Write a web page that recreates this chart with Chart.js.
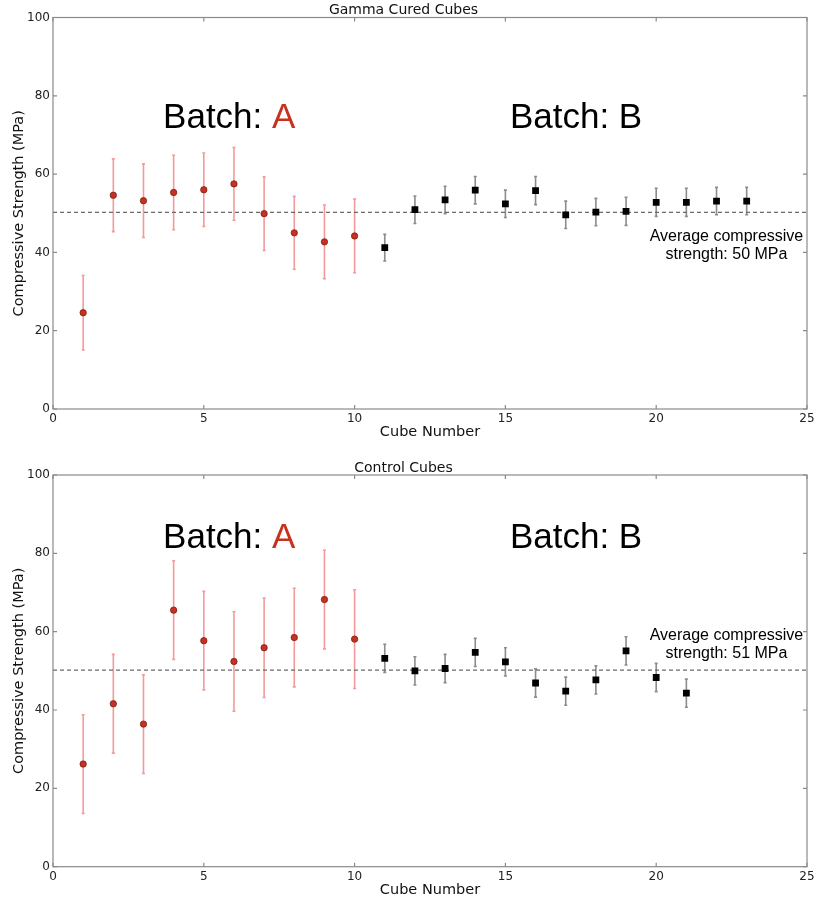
<!DOCTYPE html>
<html>
<head>
<meta charset="UTF-8">
<title>Gamma Cured and Control Cubes</title>
<script src="https://cdn.jsdelivr.net/npm/chart.js"></script>
<style>
  html, body { margin: 0; padding: 0; background: #fff; }
  .panel { position: absolute; left: 0; width: 814px; height: 450px; }
  #top { top: 0; }
  #bottom { top: 450px; }
</style>
</head>
<body>
<div class="panel" id="top"><canvas id="gammaChart" width="814" height="450"></canvas></div>
<div class="panel" id="bottom"><canvas id="controlChart" width="814" height="450"></canvas></div>
<script>
// cube numbers per batch
const gammaCubesA = [1, 2, 3, 4, 5, 6, 7, 8, 9, 10];
const gammaCubesB = [11, 12, 13, 14, 15, 16, 17, 18, 19, 20, 21, 22, 23];
const controlCubesA = [1, 2, 3, 4, 5, 6, 7, 8, 9, 10];
const controlCubesB = [11, 12, 13, 14, 15, 16, 17, 18, 19, 20, 21];

// compressive strength (MPa) and error (+/-)
const gammaA = [24.6, 54.6, 53.2, 55.3, 56.0, 57.5, 49.9, 45.0, 42.7, 44.2];
const gammaAErr = [9.5, 9.3, 9.4, 9.5, 9.4, 9.3, 9.4, 9.3, 9.4, 9.4];
const gammaB = [41.2, 50.9, 53.4, 55.9, 52.4, 55.8, 49.6, 50.3, 50.5, 52.8, 52.8, 53.1, 53.1];
const gammaBErr = [3.4, 3.5, 3.5, 3.5, 3.5, 3.6, 3.5, 3.5, 3.6, 3.6, 3.6, 3.5, 3.5];

const controlA = [26.2, 41.6, 36.4, 65.5, 57.7, 52.4, 55.9, 58.5, 68.2, 58.1];
const controlAErr = [12.6, 12.6, 12.6, 12.6, 12.6, 12.7, 12.7, 12.6, 12.6, 12.6];
const controlB = [53.2, 50.0, 50.6, 54.7, 52.3, 46.9, 44.8, 47.7, 55.1, 48.3, 44.3];
const controlBErr = [3.6, 3.6, 3.6, 3.6, 3.6, 3.6, 3.6, 3.6, 3.6, 3.6, 3.6];

const gammaAvg = 50.2;
const controlAvg = 50.2;

const xTicks = [0, 5, 10, 15, 20, 25];
const yTicks = [0, 20, 40, 60, 80, 100];

const RED = '#c8301f';
const TICK_FONT = { family: "'DejaVu Sans', sans-serif", size: 12 };
const LABEL_FONT = { family: "'DejaVu Sans', sans-serif", size: 14.5, lineHeight: 1.2 };

const toPoints = (xs, ys) => xs.map((x, i) => ({ x: x, y: ys[i] }));

// vertical error bars with small caps, drawn under the markers
const errorBars = {
  id: 'errorBars',
  beforeDatasetsDraw(chart) {
    const { ctx, scales: { x, y } } = chart;
    chart.data.datasets.forEach((ds) => {
      if (!ds.errors) return;
      ctx.save();
      ctx.strokeStyle = ds.errorColor;
      ctx.lineWidth = 1.6;
      ds.data.forEach((p, i) => {
        const px = x.getPixelForValue(p.x);
        const hi = y.getPixelForValue(p.y + ds.errors[i]);
        const lo = y.getPixelForValue(p.y - ds.errors[i]);
        ctx.beginPath();
        ctx.moveTo(px, hi); ctx.lineTo(px, lo);
        ctx.moveTo(px - 1.5, hi); ctx.lineTo(px + 1.5, hi);
        ctx.moveTo(px - 1.5, lo); ctx.lineTo(px + 1.5, lo);
        ctx.stroke();
      });
      ctx.restore();
    });
  }
};

// box frame with inward ticks on all four sides (matplotlib look)
const frame = {
  id: 'frame',
  afterDraw(chart) {
    const { ctx, chartArea: a, scales: { x, y } } = chart;
    ctx.save();
    ctx.strokeStyle = '#8a8a8a';
    ctx.lineWidth = 1.2;
    ctx.strokeRect(a.left, a.top, a.right - a.left, a.bottom - a.top);
    ctx.beginPath();
    xTicks.forEach((v) => {
      const px = x.getPixelForValue(v);
      ctx.moveTo(px, a.bottom); ctx.lineTo(px, a.bottom - 4);
      ctx.moveTo(px, a.top); ctx.lineTo(px, a.top + 4);
    });
    yTicks.forEach((v) => {
      const py = y.getPixelForValue(v);
      ctx.moveTo(a.left, py); ctx.lineTo(a.left + 4, py);
      ctx.moveTo(a.right, py); ctx.lineTo(a.right - 4, py);
    });
    ctx.stroke();
    ctx.restore();
  }
};

function notesPlugin(notes) {
  return {
    id: 'notes',
    afterDatasetsDraw(chart) {
      const { ctx, scales: { x, y } } = chart;
      ctx.save();
      notes.forEach((n) => {
        ctx.font = n.font;
        ctx.textAlign = n.align;
        ctx.textBaseline = 'alphabetic';
        let px = x.getPixelForValue(n.x);
        const py = y.getPixelForValue(n.y);
        n.parts.forEach((part) => {
          ctx.fillStyle = part.color;
          ctx.fillText(part.text, px, py);
          if (n.align === 'left') px += ctx.measureText(part.text).width;
        });
      });
      ctx.restore();
    }
  };
}

function makeChart(id, cfg) {
  const ctx = document.getElementById(id).getContext('2d');
  return new Chart(ctx, {
    type: 'scatter',
    data: {
      datasets: [
        {
          label: 'Batch A',
          data: toPoints(cfg.cubesA, cfg.valsA),
          errors: cfg.errA,
          errorColor: 'rgba(240, 120, 120, 0.75)',
          pointStyle: 'circle',
          pointRadius: 3.2,
          pointBackgroundColor: RED,
          pointBorderColor: '#6e1a10',
          pointBorderWidth: 0.7
        },
        {
          label: 'Batch B',
          data: toPoints(cfg.cubesB, cfg.valsB),
          errors: cfg.errB,
          errorColor: '#8c8c8c',
          pointStyle: 'rect',
          pointRadius: 4.8,
          pointBackgroundColor: '#000',
          pointBorderColor: '#000',
          pointBorderWidth: 0
        },
        {
          type: 'line',
          label: 'Average',
          data: [{ x: 0, y: cfg.avg }, { x: 25, y: cfg.avg }],
          borderColor: '#6a6a6a',
          borderWidth: 1.2,
          borderDash: [4, 3],
          pointRadius: 0,
          fill: false
        }
      ]
    },
    options: {
      responsive: false,
      animation: false,
      layout: { padding: { left: 0, right: 7, top: 0, bottom: 0 } },
      plugins: {
        legend: { display: false },
        tooltip: { enabled: false },
        title: {
          display: true,
          text: cfg.title,
          color: '#111',
          font: { family: "'DejaVu Sans', sans-serif", size: 14, weight: 'normal', lineHeight: 1 },
          padding: cfg.titlePad
        }
      },
      scales: {
        x: {
          type: 'linear',
          min: 0,
          max: 25,
          afterBuildTicks: (s) => { s.ticks = xTicks.map((v) => ({ value: v })); },
          afterFit: (s) => { s.height = cfg.xHeight; s.paddingRight = 0; s.paddingLeft = 0; },
          grid: { display: false, drawTicks: false },
          border: { display: false },
          ticks: { color: '#222', font: TICK_FONT, padding: 3, maxRotation: 0 },
          title: {
            display: true,
            text: 'Cube Number',
            color: '#111',
            font: LABEL_FONT,
            padding: { top: 0, bottom: cfg.xTitlePad }
          }
        },
        y: {
          type: 'linear',
          min: 0,
          max: 100,
          afterBuildTicks: (s) => { s.ticks = yTicks.map((v) => ({ value: v })); },
          afterFit: (s) => { s.width = 53; s.paddingTop = 0; s.paddingBottom = 0; },
          grid: { display: false, drawTicks: false },
          border: { display: false },
          ticks: { color: '#222', font: TICK_FONT, padding: 3 },
          title: {
            display: true,
            text: 'Compressive Strength (MPa)',
            color: '#111',
            font: LABEL_FONT,
            padding: { top: 11, bottom: 0 }
          }
        }
      }
    },
    plugins: [errorBars, frame, notesPlugin(cfg.notes)]
  });
}

const BIG = "35px 'Liberation Sans', Arial, sans-serif";
const SMALL = "16px 'Liberation Sans', Arial, sans-serif";

makeChart('gammaChart', {
  title: 'Gamma Cured Cubes',
  titlePad: { top: 3, bottom: 0.5 },
  xHeight: 41,
  xTitlePad: 9.3,
  cubesA: gammaCubesA, valsA: gammaA, errA: gammaAErr,
  cubesB: gammaCubesB, valsB: gammaB, errB: gammaBErr,
  avg: gammaAvg,
  notes: [
    { x: 3.65, y: 71.8, font: BIG, align: 'left', parts: [{ text: 'Batch: ', color: '#000' }, { text: 'A', color: RED }] },
    { x: 15.15, y: 71.8, font: BIG, align: 'left', parts: [{ text: 'Batch: B', color: '#000' }] },
    { x: 22.33, y: 42.8, font: SMALL, align: 'center', parts: [{ text: 'Average compressive', color: '#000' }] },
    { x: 22.33, y: 38.2, font: SMALL, align: 'center', parts: [{ text: 'strength: 50 MPa', color: '#000' }] }
  ]
});

makeChart('controlChart', {
  title: 'Control Cubes',
  titlePad: { top: 11, bottom: 0 },
  xHeight: 33.3,
  xTitlePad: 1.3,
  cubesA: controlCubesA, valsA: controlA, errA: controlAErr,
  cubesB: controlCubesB, valsB: controlB, errB: controlBErr,
  avg: controlAvg,
  notes: [
    { x: 3.65, y: 81.3, font: BIG, align: 'left', parts: [{ text: 'Batch: ', color: '#000' }, { text: 'A', color: RED }] },
    { x: 15.15, y: 81.3, font: BIG, align: 'left', parts: [{ text: 'Batch: B', color: '#000' }] },
    { x: 22.33, y: 58.0, font: SMALL, align: 'center', parts: [{ text: 'Average compressive', color: '#000' }] },
    { x: 22.33, y: 53.3, font: SMALL, align: 'center', parts: [{ text: 'strength: 51 MPa', color: '#000' }] }
  ]
});
</script>
</body>
</html>
